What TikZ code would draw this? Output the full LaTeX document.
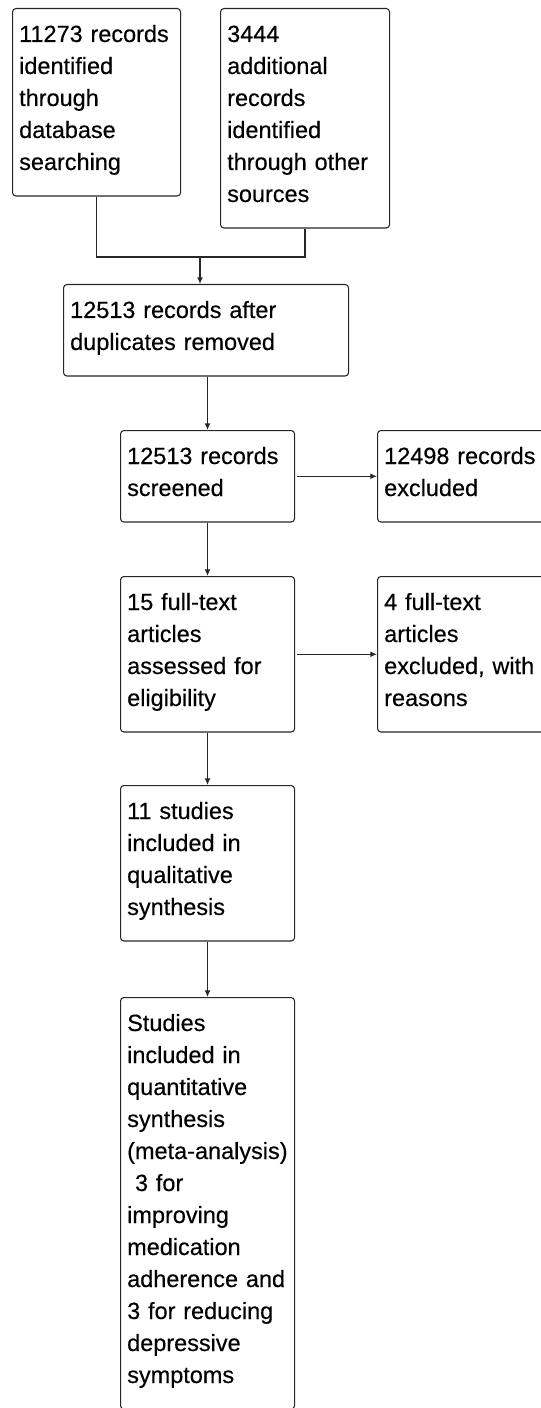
\documentclass[tikz,border=0pt]{standalone}
\usepackage{fontspec}
\setmainfont{Liberation Sans}
\newfontfamily\boxfont{Liberation Sans}[BoldFont={Liberation Sans}, BoldFeatures={FakeBold=0.35}]
\usetikzlibrary{arrows.meta}
\begin{document}
\begin{tikzpicture}[
        x=0.75pt, y=-0.75pt,
        box/.style={draw=black!85, line width=0.8pt, rounded corners=2.5pt,
            anchor=north west, align=left, inner xsep=5pt, inner ysep=4.5pt,
            text width=#1, font={\boxfont\bfseries\fontsize{17.6pt}{24pt}\selectfont},
            execute at begin node={\rule{0pt}{20.6pt}},
            execute at end node={\rule[-15pt]{0pt}{0pt}}},
        box/.default=120.5pt,
        link/.style={draw=black!85, line width=1pt},
        arrow/.style={link, -{Latex[length=5pt,width=4.5pt]}}
    ]
        \useasboundingbox (0,0) rectangle (541,1408);
        \clip (0,0) rectangle (541,1408);

        % Identification
        \node[box=116pt] (rec) at (12,8) {11273 records\\identified\\through\\database\\searching};
        \node[box=116.75pt] (add) at (220,8) {3444\\additional\\records\\identified\\through other\\sources};
        \node[box=203.75pt] (dup) at (63,284) {12513 records after\\duplicates removed};

        % Screening
        \node[box] (scr) at (120,430) {12513 records\\screened};
        \node[box] (exc) at (377,430) {12498 records\\excluded};

        % Eligibility
        \node[box] (full) at (120,576) {15 full-text\\articles\\assessed for\\eligibility};
        \node[box] (fexc) at (377,576) {4 full-text\\articles\\excluded, with\\reasons};

        % Included
        \node[box] (qual) at (120,785) {11 studies\\included in\\qualitative\\synthesis};
        \node[box] (quant) at (120,997) {Studies\\included in\\quantitative\\synthesis\\(meta-analysis)\\\ 3 for\\improving\\medication\\adherence and\\3 for reducing\\depressive\\symptoms};

        % Verbindungen
        \coordinate (join) at (200,257);
        \draw[link] (rec.south) |- (join) -| (add.south);
        \draw[arrow] (join) -- (join |- dup.north);
        \draw[arrow] (scr.north |- dup.south) -- (scr.north);
        \draw[arrow, shorten <=1.5pt] (scr.east) -- (exc.west);
        \draw[arrow] (scr.south) -- (full.north);
        \draw[arrow, shorten <=1.5pt] (full.east) -- (fexc.west);
        \draw[arrow] (full.south) -- (qual.north);
        \draw[arrow] (qual.south) -- (quant.north);

    \end{tikzpicture}
\end{document}
